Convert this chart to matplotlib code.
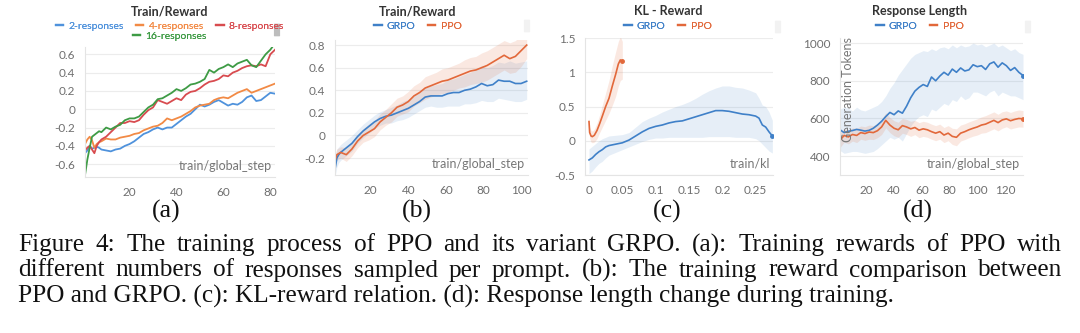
import matplotlib.pyplot as plt
from matplotlib.lines import Line2D
from matplotlib.patches import FancyBboxPatch

plt.rcParams['font.family'] = ['Lato', 'DejaVu Sans']

# (a) PPO train reward for different numbers of sampled responses
steps_a = [1, 2, 3, 4, 5, 6, 7, 8, 10, 12, 14, 16, 18, 20, 22, 24, 26, 28, 30, 32, 34, 36, 38,
           40, 42, 44, 46, 48, 50, 52, 54, 56, 58, 60, 62, 64, 66, 68, 70, 72, 74, 76, 78, 80, 82]
resp_2 = [-0.48, -0.45, -0.40, -0.43, -0.42, -0.41, -0.42, -0.44, -0.45, -0.46, -0.44, -0.43, -0.40,
          -0.38, -0.35, -0.31, -0.27, -0.25, -0.22, -0.20, -0.22, -0.20, -0.20, -0.16, -0.12, -0.08,
          -0.05, 0.00, 0.05, 0.03, 0.05, 0.08, 0.10, 0.07, 0.04, 0.06, 0.05, 0.08, 0.13, 0.15, 0.09,
          0.10, 0.14, 0.18, 0.17]
resp_4 = [-0.38, -0.33, -0.30, -0.34, -0.42, -0.38, -0.36, -0.35, -0.32, -0.33, -0.33, -0.31, -0.30,
          -0.29, -0.27, -0.26, -0.23, -0.21, -0.19, -0.18, -0.15, -0.10, -0.12, -0.10, -0.08, -0.05,
          -0.02, 0.02, 0.04, 0.05, 0.06, 0.10, 0.12, 0.13, 0.12, 0.15, 0.18, 0.20, 0.22, 0.18, 0.20,
          0.22, 0.24, 0.26, 0.28]
resp_8 = [-0.45, -0.42, -0.40, -0.44, -0.48, -0.40, -0.36, -0.33, -0.30, -0.25, -0.20, -0.15, -0.15,
          -0.13, -0.14, -0.12, -0.06, -0.01, 0.02, 0.10, 0.08, 0.06, 0.09, 0.12, 0.10, 0.16, 0.19,
          0.20, 0.23, 0.27, 0.30, 0.31, 0.33, 0.37, 0.36, 0.40, 0.42, 0.45, 0.47, 0.48, 0.47, 0.49,
          0.47, 0.60, 0.65]
resp_16 = [-0.72, -0.55, -0.42, -0.30, -0.28, -0.26, -0.24, -0.25, -0.20, -0.22, -0.19, -0.17, -0.12,
           -0.10, -0.10, -0.08, -0.03, 0.02, 0.05, 0.11, 0.12, 0.15, 0.18, 0.22, 0.20, 0.23, 0.27,
           0.28, 0.30, 0.33, 0.43, 0.40, 0.44, 0.46, 0.49, 0.46, 0.50, 0.52, 0.54, 0.48, 0.46, 0.53,
           0.60, 0.65, 0.72]

# (b) GRPO vs PPO train reward (mean with min/max band)
steps_b = [1, 2, 3, 4, 7, 10, 13, 16, 19, 22, 25, 28, 31, 34, 37, 40, 43, 46, 49, 52, 55, 58, 61,
           64, 67, 70, 73, 76, 79, 82, 85, 88, 91, 94, 97, 100, 103]
grpo_b = [-0.30, -0.20, -0.17, -0.15, -0.11, -0.07, -0.01, 0.04, 0.08, 0.12, 0.15, 0.17, 0.18, 0.20,
          0.22, 0.24, 0.27, 0.30, 0.34, 0.35, 0.35, 0.35, 0.37, 0.38, 0.38, 0.40, 0.41, 0.43, 0.46,
          0.44, 0.45, 0.49, 0.48, 0.48, 0.46, 0.46, 0.48]
grpo_b_hi = [-0.22, -0.12, -0.10, -0.08, -0.04, 0.00, 0.05, 0.10, 0.14, 0.18, 0.21, 0.23, 0.25, 0.27,
             0.30, 0.32, 0.35, 0.39, 0.42, 0.44, 0.45, 0.46, 0.49, 0.50, 0.52, 0.54, 0.56, 0.58, 0.62,
             0.60, 0.62, 0.65, 0.64, 0.66, 0.64, 0.65, 0.66]
grpo_b_lo = [-0.36, -0.28, -0.24, -0.22, -0.18, -0.14, -0.07, -0.02, 0.02, 0.06, 0.09, 0.11, 0.11,
             0.13, 0.14, 0.16, 0.19, 0.22, 0.25, 0.26, 0.25, 0.25, 0.26, 0.26, 0.26, 0.28, 0.28, 0.29,
             0.31, 0.30, 0.30, 0.33, 0.32, 0.31, 0.30, 0.30, 0.32]
ppo_b = [-0.22, -0.17, -0.16, -0.15, -0.17, -0.12, -0.05, 0.00, 0.03, 0.06, 0.12, 0.16, 0.20, 0.25,
         0.27, 0.30, 0.35, 0.38, 0.42, 0.44, 0.46, 0.48, 0.49, 0.51, 0.53, 0.55, 0.57, 0.58, 0.60,
         0.62, 0.65, 0.68, 0.71, 0.68, 0.70, 0.75, 0.80]
ppo_b_hi = [-0.16, -0.12, -0.11, -0.10, -0.11, -0.06, 0.01, 0.06, 0.10, 0.13, 0.19, 0.23, 0.28, 0.33,
            0.35, 0.39, 0.44, 0.47, 0.52, 0.54, 0.56, 0.59, 0.60, 0.62, 0.64, 0.67, 0.69, 0.70, 0.73,
            0.75, 0.78, 0.81, 0.84, 0.82, 0.84, 0.89, 0.92]
ppo_b_lo = [-0.27, -0.22, -0.21, -0.20, -0.23, -0.18, -0.11, -0.06, -0.04, -0.01, 0.05, 0.09, 0.12,
            0.17, 0.19, 0.21, 0.26, 0.29, 0.32, 0.34, 0.36, 0.37, 0.38, 0.40, 0.42, 0.43, 0.45, 0.46,
            0.47, 0.49, 0.52, 0.55, 0.58, 0.55, 0.56, 0.61, 0.68]

# (c) reward against KL
kl_ppo = [0.0, 0.001, 0.003, 0.005, 0.008, 0.012, 0.016, 0.02, 0.025, 0.03, 0.035, 0.04, 0.044,
          0.047, 0.05]
rew_ppo = [0.28, 0.12, 0.07, 0.06, 0.08, 0.15, 0.25, 0.36, 0.50, 0.62, 0.80, 0.97, 1.12, 1.18, 1.16]
rew_ppo_hi = [0.34, 0.20, 0.15, 0.14, 0.17, 0.26, 0.38, 0.52, 0.70, 0.88, 1.10, 1.30, 1.45, 1.52, 1.45]
rew_ppo_lo = [0.20, 0.04, -0.02, -0.03, -0.02, 0.03, 0.12, 0.20, 0.30, 0.40, 0.52, 0.65, 0.80, 0.88, 0.90]
kl_grpo = [0.0, 0.005, 0.01, 0.015, 0.02, 0.025, 0.03, 0.04, 0.05, 0.06, 0.07, 0.08, 0.09, 0.1, 0.11,
           0.12, 0.13, 0.14, 0.15, 0.16, 0.17, 0.18, 0.19, 0.2, 0.21, 0.22, 0.23, 0.24, 0.25, 0.255,
           0.26, 0.265, 0.27, 0.275]
rew_grpo = [-0.28, -0.25, -0.20, -0.16, -0.13, -0.09, -0.07, -0.05, -0.03, 0.01, 0.07, 0.13, 0.18,
            0.21, 0.23, 0.26, 0.28, 0.29, 0.32, 0.35, 0.38, 0.41, 0.44, 0.44, 0.43, 0.41, 0.39, 0.38,
            0.36, 0.33, 0.23, 0.20, 0.13, 0.07]
rew_grpo_hi = [-0.12, -0.08, -0.04, 0.00, 0.03, 0.05, 0.07, 0.08, 0.09, 0.12, 0.20, 0.28, 0.33, 0.37,
               0.42, 0.46, 0.50, 0.53, 0.57, 0.62, 0.68, 0.73, 0.77, 0.80, 0.80, 0.78, 0.77, 0.74,
               0.70, 0.62, 0.52, 0.50, 0.42, 0.30]
rew_grpo_lo = [-0.48, -0.44, -0.38, -0.33, -0.30, -0.25, -0.21, -0.17, -0.13, -0.09, -0.05, -0.01,
               0.02, 0.04, 0.04, 0.05, 0.05, 0.05, 0.05, 0.05, 0.05, 0.06, 0.06, 0.06, 0.06, 0.05,
               0.05, 0.05, 0.03, 0.00, -0.05, -0.10, -0.15, -0.18]

# (d) generation length
steps_d = [1, 4, 7, 10, 13, 16, 19, 22, 25, 28, 31, 34, 37, 40, 43, 46, 49, 52, 55, 58, 61, 64, 67,
           70, 73, 76, 79, 82, 85, 88, 91, 94, 97, 100, 103, 106, 109, 112, 115, 118, 121, 124, 127,
           130, 133]
len_grpo = [540, 525, 532, 536, 542, 538, 533, 537, 548, 565, 585, 610, 632, 620, 640, 628, 665, 710,
            745, 765, 780, 770, 820, 800, 825, 845, 830, 862, 845, 868, 852, 858, 885, 875, 880, 860,
            890, 900, 872, 895, 880, 855, 870, 845, 828]
len_grpo_hi = [650, 660, 655, 640, 660, 645, 640, 650, 660, 670, 690, 720, 760, 790, 830, 860, 890,
               920, 940, 950, 960, 955, 970, 960, 975, 980, 970, 990, 975, 990, 980, 985, 1000, 990,
               995, 980, 990, 1000, 980, 990, 975, 960, 970, 950, 940]
len_grpo_lo = [430, 415, 420, 425, 425, 420, 415, 420, 425, 440, 460, 480, 500, 490, 500, 480, 520,
               560, 590, 610, 620, 610, 650, 640, 660, 680, 670, 700, 690, 720, 700, 710, 740, 740,
               730, 720, 740, 750, 720, 740, 730, 720, 720, 710, 700]
len_ppo = [485, 510, 502, 515, 510, 525, 520, 528, 525, 535, 555, 590, 565, 548, 540, 562, 555, 545,
           552, 538, 545, 540, 530, 522, 530, 512, 522, 505, 500, 522, 530, 540, 548, 555, 565, 570,
           580, 590, 578, 592, 598, 588, 595, 600, 598]
len_ppo_hi = [525, 545, 540, 550, 548, 560, 556, 565, 562, 572, 595, 630, 605, 588, 580, 600, 595,
              585, 590, 578, 585, 580, 570, 562, 570, 552, 562, 548, 545, 565, 572, 582, 590, 598,
              608, 615, 625, 635, 622, 636, 640, 632, 640, 645, 642]
len_ppo_lo = [445, 475, 465, 480, 472, 490, 484, 490, 488, 498, 515, 550, 525, 508, 500, 522, 515,
              505, 514, 498, 505, 500, 490, 482, 490, 472, 482, 462, 455, 480, 488, 498, 506, 512,
              522, 525, 535, 545, 534, 548, 556, 544, 550, 555, 554]

caption = [
    "Figure 4: The training process of PPO and its variant GRPO. (a): Training rewards of PPO with",
    "different numbers of responses sampled per prompt. (b): The training reward comparison between",
    "PPO and GRPO. (c): KL-reward relation. (d): Response length change during training.",
]

BLUE_A, ORANGE_A, RED_A, GREEN_A = '#4f92dc', '#f28a45', '#d84b4f', '#3e9b45'
BLUE, ORANGE = '#3f80c8', '#e2683a'
TICK = '#6e6e6e'
SERIF = 'Liberation Serif'

W, H = 1080, 333
fig = plt.figure(figsize=(W / 100, H / 100), dpi=100)


def px_axes(left, top, right, bottom):
    return fig.add_axes([left / W, 1 - bottom / H, (right - left) / W, (bottom - top) / H])


def style(ax, xlabel, xticks, xlabels, yticks, ylabels):
    for s in ['top', 'right']:
        ax.spines[s].set_visible(False)
    for s in ['left', 'bottom']:
        ax.spines[s].set_color('#e4e4e4')
        ax.spines[s].set_linewidth(0.8)
    ax.set_xticks(xticks, xlabels)
    ax.set_yticks(yticks, ylabels)
    ax.tick_params(length=0, labelsize=8.5, colors=TICK, pad=7)
    ax.grid(axis='y', color='#ececec', linewidth=0.8)
    ax.set_axisbelow(True)
    ax.text(0.985, 0.04, xlabel, transform=ax.transAxes, ha='right', va='bottom',
            fontsize=9, color='#777777')


def head(cx, title, rows):
    fig.text(cx / W, 1 - 11 / H, title, ha='center', va='center', fontsize=9,
             fontweight='bold', color='#333333')
    for i, row in enumerate(rows):
        handles = [Line2D([], [], color=c, lw=1.6) for _, c in row]
        leg = fig.legend(handles, [n for n, _ in row], loc='center',
                         bbox_to_anchor=(cx / W, 1 - (26 + 10 * i) / H), ncol=len(row),
                         frameon=False, fontsize=7.5, handlelength=0.7, handletextpad=0.5,
                         columnspacing=1.2, labelcolor='linecolor', borderpad=0, borderaxespad=0)
        fig.add_artist(leg)


def icon(x, y, dark=False):
    fig.patches.append(FancyBboxPatch((x / W, 1 - (y + 6) / H), 4 / W, 12 / H,
                                      boxstyle='round,pad=0.001', transform=fig.transFigure,
                                      color='#bdbdbd' if dark else '#f2f2f2', lw=0))


# (a)
ax = px_axes(85, 47, 275, 177)
ax.plot(steps_a, resp_2, color=BLUE_A, lw=1.3)
ax.plot(steps_a, resp_4, color=ORANGE_A, lw=1.3)
ax.plot(steps_a, resp_8, color=RED_A, lw=1.3)
ax.plot(steps_a, resp_16, color=GREEN_A, lw=1.3)
ax.set_xlim(1, 82)
ax.set_ylim(-0.74, 0.68)
style(ax, 'train/global_step', [20, 40, 60, 80], ['20', '40', '60', '80'],
      [-0.6, -0.4, -0.2, 0, 0.2, 0.4, 0.6], ['-0.6', '-0.4', '-0.2', '0', '0.2', '0.4', '0.6'])
head(170, 'Train/Reward',
     [[('2-responses', BLUE_A), ('4-responses', ORANGE_A), ('8-responses', RED_A)],
      [('16-responses', GREEN_A)]])
icon(275, 30, dark=True)

# (b)
ax = px_axes(335, 40, 528, 175)
ax.fill_between(steps_b, grpo_b_lo, grpo_b_hi, color=BLUE, alpha=0.13, lw=0)
ax.fill_between(steps_b, ppo_b_lo, ppo_b_hi, color=ORANGE, alpha=0.15, lw=0)
ax.plot(steps_b, grpo_b, color=BLUE, lw=1.2)
ax.plot(steps_b, ppo_b, color=ORANGE, lw=1.2)
ax.set_xlim(1, 103.7)
ax.set_ylim(-0.35, 0.845)
style(ax, 'train/global_step', [20, 40, 60, 80, 100], ['20', '40', '60', '80', '100'],
      [-0.2, 0, 0.2, 0.4, 0.6, 0.8], ['-0.2', '0', '0.2', '0.4', '0.6', '0.8'])
head(418, 'Train/Reward', [[('GRPO', BLUE), ('PPO', ORANGE)]])
icon(525, 26)

# (c)
ax = px_axes(585, 38, 773, 175)
ax.fill_between(kl_grpo, rew_grpo_lo, rew_grpo_hi, color=BLUE, alpha=0.13, lw=0)
ax.fill_between(kl_ppo, rew_ppo_lo, rew_ppo_hi, color=ORANGE, alpha=0.15, lw=0)
ax.plot(kl_grpo, rew_grpo, color=BLUE, lw=1.2)
ax.plot(kl_ppo, rew_ppo, color=ORANGE, lw=1.2)
ax.plot(kl_grpo[-1], rew_grpo[-1], 'o', color=BLUE, ms=2.5)
ax.plot(kl_ppo[-1], rew_ppo[-1], 'o', color=ORANGE, ms=2.5)
ax.set_xlim(-0.006, 0.276)
ax.set_ylim(-0.5, 1.5)
style(ax, 'train/kl', [0, 0.05, 0.1, 0.15, 0.2, 0.25], ['0', '0.05', '0.1', '0.15', '0.2', '0.25'],
      [-0.5, 0, 0.5, 1, 1.5], ['-0.5', '0', '0.5', '1', '1.5'])
head(668, 'KL - Reward', [[('GRPO', BLUE), ('PPO', ORANGE)]])
icon(776, 27)

# (d)
ax = px_axes(840, 38, 1023, 175)
ax.fill_between(steps_d, len_grpo_lo, len_grpo_hi, color=BLUE, alpha=0.13, lw=0)
ax.fill_between(steps_d, len_ppo_lo, len_ppo_hi, color=ORANGE, alpha=0.15, lw=0)
ax.plot(steps_d, len_grpo, color=BLUE, lw=1.2)
ax.plot(steps_d, len_ppo, color=ORANGE, lw=1.2)
ax.plot(steps_d[-1], len_grpo[-1], 'o', color=BLUE, ms=2.5)
ax.plot(steps_d[-1], len_ppo[-1], 'o', color=ORANGE, ms=2.5)
ax.set_xlim(1, 133)
ax.set_ylim(300, 1027)
style(ax, 'train/global_step', [20, 40, 60, 80, 100, 120], ['20', '40', '60', '80', '100', '120'],
      [400, 600, 800, 1000], ['400', '600', '800', '1000'])
ax.text(0.045, 0.62, 'Generation Tokens', transform=ax.transAxes, rotation=90,
        ha='center', va='center', fontsize=9, color='#777777')
head(920, 'Response Length', [[('GRPO', BLUE), ('PPO', ORANGE)]])
icon(1026, 27)

# panel letters
for cx, lab in zip([166, 417, 667, 918], ['(a)', '(b)', '(c)', '(d)']):
    fig.text(cx / W, 1 - 211 / H, lab, ha='center', va='center', fontsize=18.5,
             family=SERIF, color='#111111')

# caption: full lines are spread word by word to the right margin
renderer = fig.canvas.get_renderer()
x0, x1 = 18, 1062
for i, line in enumerate(caption):
    y = 1 - (245 + 25.5 * i) / H
    if i == len(caption) - 1:
        fig.text(x0 / W, y, line, ha='left', va='center', fontsize=18.2,
                 family=SERIF, color='#111111')
        continue
    words = line.split(' ')
    texts = [fig.text(0, y, w, ha='left', va='center', fontsize=18.2,
                      family=SERIF, color='#111111') for w in words]
    widths = [t.get_window_extent(renderer).width for t in texts]
    gap = (x1 - x0 - sum(widths)) / (len(words) - 1)
    x = x0
    for t, w in zip(texts, widths):
        t.set_x(x / W)
        x += w + gap

fig.savefig('out.png', dpi=100)
